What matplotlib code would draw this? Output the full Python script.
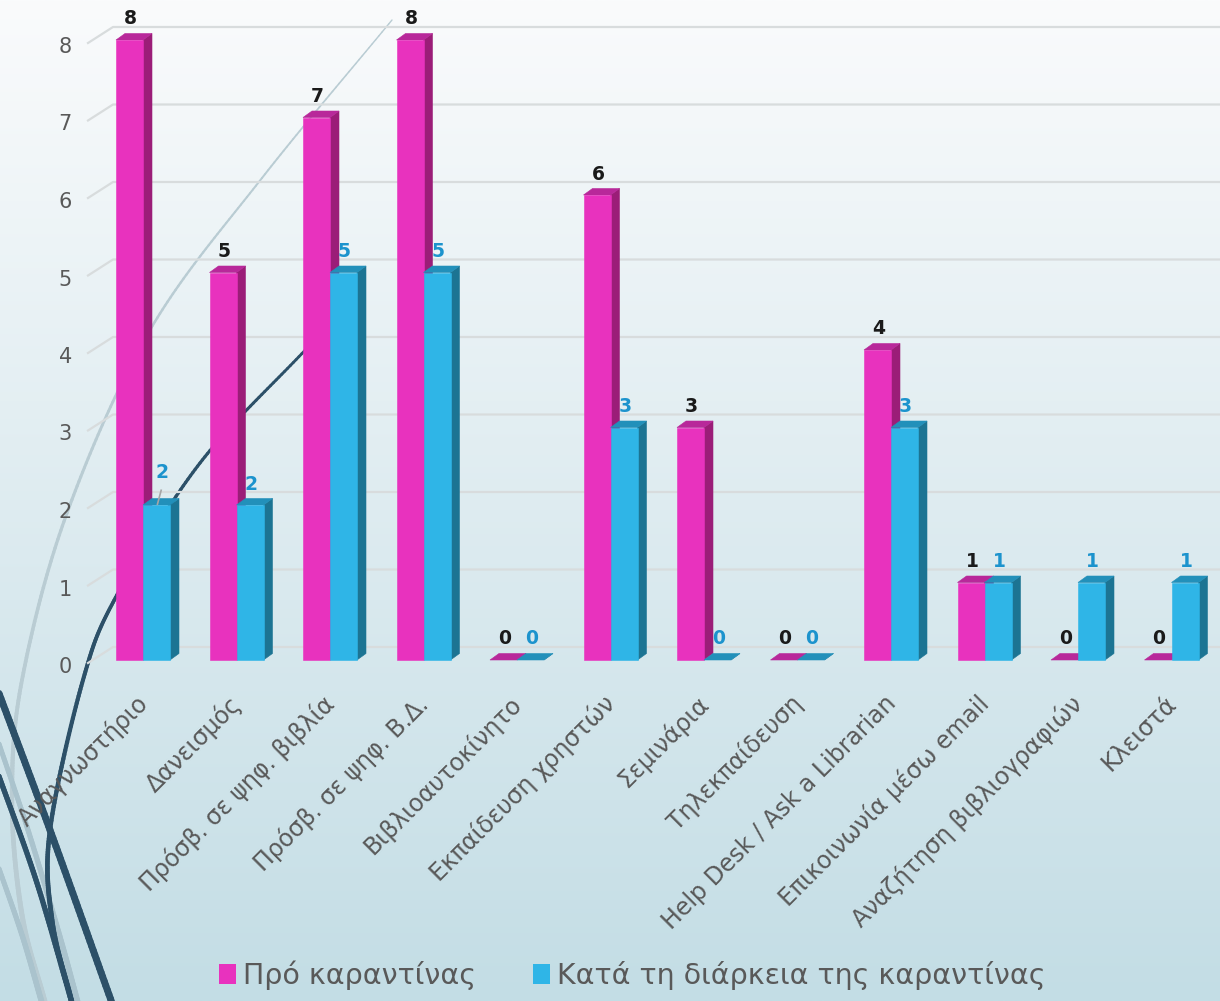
import numpy as np
import matplotlib
matplotlib.use("Agg")
import matplotlib.pyplot as plt
from matplotlib.patches import Polygon, Patch
from matplotlib.lines import Line2D
from matplotlib.collections import LineCollection

plt.rcParams['font.family'] = ['DejaVu Sans']

# ---- data -------------------------------------------------------------
categories = ['Αναγνωστήριο', 'Δανεισμός', 'Πρόσβ. σε ψηφ. βιβλία',
              'Πρόσβ. σε ψηφ. Β.Δ.', 'Βιβλιοαυτοκίνητο', 'Εκπαίδευση χρηστών',
              'Σεμινάρια', 'Τηλεκπαίδευση', 'Help Desk / Ask a Librarian',
              'Επικοινωνία μέσω email', 'Αναζήτηση βιβλιογραφιών', 'Κλειστά']
before_quarantine = [8, 5, 7, 8, 0, 6, 3, 0, 4, 1, 0, 0]
during_quarantine = [2, 2, 5, 5, 0, 3, 0, 0, 3, 1, 1, 1]
series_names = ['Πρό καραντίνας', 'Κατά τη διάρκεια της καραντίνας']
y_ticks = [0, 1, 2, 3, 4, 5, 6, 7, 8]

# ---- style ------------------------------------------------------------
W, H = 1220, 1001
MAG = dict(front='#e832be', side='#9b1d78', top='#b8289a')
CYA = dict(front='#2fb5e7', side='#1c7493', top='#2290ba')
TEXT_GRAY = '#595959'
LABEL_CYAN = '#1c93cd'

# pixel scale of one category and one unit
PX_CAT, PX_UNIT = 93.5, 77.5
X0_PX, Y0_PX = 143, 660

fig = plt.figure(figsize=(W / 100, H / 100), dpi=100)

# ---- slide background ---------------------------------------------------
bg = fig.add_axes([0, 0, 1, 1], zorder=0)
bg.set_xlim(0, W)
bg.set_ylim(H, 0)
bg.axis('off')
top_c = np.array([250, 251, 252]) / 255
bot_c = np.array([195, 221, 229]) / 255
t = np.linspace(0, 1, 400)[:, None]
grad = (top_c[None, :] * (1 - t) + bot_c[None, :] * t)[:, None, :]
grad = np.repeat(grad, 2, axis=1)
bg.imshow(grad, extent=(0, W, H, 0), aspect='auto', interpolation='bilinear')


def catmull(pts, n=40):
    p = np.asarray(pts, float)
    p = np.vstack([2 * p[0] - p[1], p, 2 * p[-1] - p[-2]])
    out = []
    for k in range(1, len(p) - 2):
        p0, p1, p2, p3 = p[k - 1], p[k], p[k + 1], p[k + 2]
        s = np.linspace(0, 1, n, endpoint=False)[:, None]
        out.append(0.5 * ((2 * p1) + (-p0 + p2) * s +
                          (2 * p0 - 5 * p1 + 4 * p2 - p3) * s ** 2 +
                          (-p0 + 3 * p1 - 3 * p2 + p3) * s ** 3))
    out.append(p[-2][None, :])
    return np.vstack(out)


def swoosh(pts, color, w0, w1):
    c = catmull(pts)
    segs = np.stack([c[:-1], c[1:]], axis=1)
    widths = np.linspace(w0, w1, len(segs))
    bg.add_collection(LineCollection(segs, colors=color, linewidths=widths,
                                     capstyle='round'))


# decorative swooshes of the slide theme
swoosh([(392, 20), (262, 178), (150, 330), (67, 513), (22, 680), (12, 800),
        (22, 915), (45, 1003)], '#b9ccd3', 1.0, 4.0)
swoosh([(-4, 735), (28, 830), (58, 930), (78, 1003)], '#aac3cd', 3.5, 4.0)
swoosh([(-4, 860), (22, 935), (42, 1003)], '#aac3cd', 3.5, 4.0)
swoosh([(-6, 680), (50, 830), (112, 1003)], '#2c5068', 5.0, 5.0)
swoosh([(-4, 768), (36, 880), (72, 1003)], '#2c5068', 3.8, 3.8)
swoosh([(310, 345), (200, 463), (117, 595), (83, 680), (50, 830), (52, 920),
        (72, 1003)], '#2c5068', 2.0, 3.8)

# ---- chart axes -----------------------------------------------------------
left_px, top_px = 90, 20
ax = fig.add_axes([left_px / W, (H - Y0_PX) / H, (W - left_px) / W,
                   (Y0_PX - top_px) / H], zorder=1)
ax.set_facecolor('none')
ax.set_xlim((left_px - X0_PX) / PX_CAT, (W - X0_PX) / PX_CAT)
ax.set_ylim(0, (Y0_PX - top_px) / PX_UNIT)
ax.axis('off')

bw = 27 / PX_CAT           # bar width
ddx = 9 / PX_CAT           # bar depth offset (x)
ddy = 6.5 / PX_UNIT        # bar depth offset (y)

# gridlines on the back wall with their floor/wall bend
gx_front = (88 - X0_PX) / PX_CAT
gx_back = (113 - X0_PX) / PX_CAT
gx_end = (W - X0_PX) / PX_CAT
for v in y_ticks:
    yf = v - 3 / PX_UNIT
    yb = v + 13 / PX_UNIT
    ax.add_line(Line2D([gx_front, gx_back, gx_end], [yf, yb, yb],
                       color='#d8dcdd', lw=1.6, zorder=1, clip_on=False))
    ax.text((72 - X0_PX) / PX_CAT, v - 7 / PX_UNIT, str(v), ha='right',
            va='center', fontsize=15, color=TEXT_GRAY)


def bar3d(x_left, h, pal, z):
    xr = x_left + bw
    ax.add_patch(Polygon([(xr, 0), (xr + ddx, ddy), (xr + ddx, h + ddy), (xr, h)],
                         closed=True, fc=pal['side'], ec=pal['side'], lw=0.4,
                         zorder=z, clip_on=False))
    ax.add_patch(Polygon([(x_left, h), (x_left + ddx, h + ddy), (xr + ddx, h + ddy),
                          (xr, h)], closed=True, fc=pal['top'], ec=pal['top'],
                         lw=0.4, zorder=z, clip_on=False))
    if h > 0:
        ax.add_patch(Polygon([(x_left, 0), (xr, 0), (xr, h), (x_left, h)],
                             closed=True, fc=pal['front'], ec=pal['front'],
                             lw=0.4, zorder=z, clip_on=False))


for i, (a, b) in enumerate(zip(before_quarantine, during_quarantine)):
    bar3d(i - bw, a, MAG, 3 + 2 * i)
    bar3d(i, b, CYA, 4 + 2 * i)

# value labels
off = 21 / PX_UNIT
for i, (a, b) in enumerate(zip(before_quarantine, during_quarantine)):
    ax.text(i - bw / 2 + 0.01, a + off, str(a), ha='center', va='center',
            fontsize=13.5, fontweight='bold', color='#1a1a1a', zorder=40)
    if i == 0:
        # label lifted above the bar with a leader line
        ax.add_line(Line2D([i + bw / 2 + 0.05, i + bw / 2 + 0.01],
                           [b + 0.19, b + 0.01], color='#a6a6a6', lw=1.2,
                           zorder=40))
        ax.text(i + bw / 2 + 0.06, b + 0.42, str(b), ha='center', va='center',
                fontsize=13.5, fontweight='bold', color=LABEL_CYAN, zorder=40)
    else:
        ax.text(i + bw / 2 + 0.01, b + off, str(b), ha='center', va='center',
                fontsize=13.5, fontweight='bold', color=LABEL_CYAN, zorder=40)

# category labels
for i, name in enumerate(categories):
    ax.text(i + 1 / PX_CAT, -40 / PX_UNIT, name, rotation=45, ha='right',
            va='center', rotation_mode='anchor', fontsize=17, color=TEXT_GRAY)

# legend
handles = [Patch(fc=MAG['front'], ec='none'), Patch(fc=CYA['front'], ec='none')]
fig.legend(handles, series_names, loc='center', ncol=2,
           bbox_to_anchor=(632 / W, 1 - 975 / H), frameon=False,
           fontsize=20.5, labelcolor=TEXT_GRAY, handlelength=0.6,
           handleheight=0.7, handletextpad=0.25, columnspacing=2.0)

fig.savefig('out.png', dpi=100)
